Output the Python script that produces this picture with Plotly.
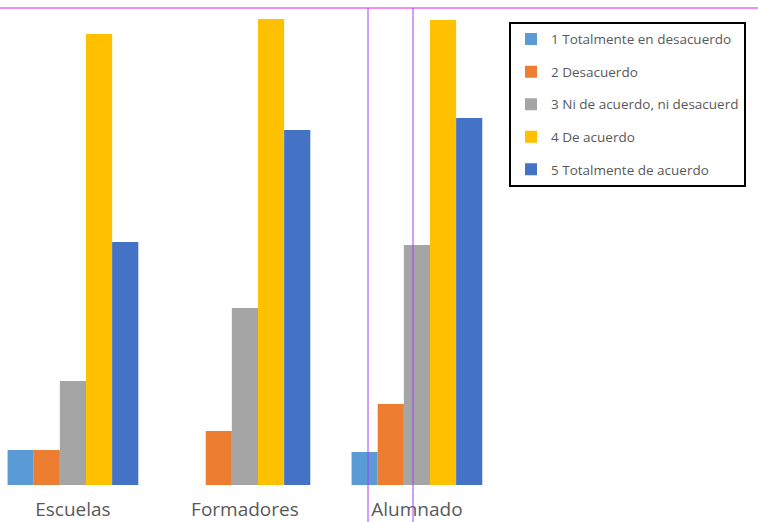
import plotly.graph_objects as go

categories = ["Escuelas", "Formadores", "Alumnado"]
series_names = [
    "1 Totalmente en desacuerdo",
    "2 Desacuerdo",
    "3 Ni de acuerdo, ni desacuerd",
    "4 De acuerdo",
    "5 Totalmente de acuerdo",
]
s1 = [35, 0, 33]
s2 = [35, 54, 81]
s3 = [104, 177, 240]
s4 = [451, 466, 465]
s5 = [243, 355, 367]
colors = ["#5b9bd5", "#ed7d31", "#a5a5a5", "#ffc000", "#4472c4"]

fig = go.Figure()
for i, (name, vals) in enumerate(zip(series_names, [s1, s2, s3, s4, s5])):
    fig.add_trace(go.Bar(
        x=categories, y=vals, name=name,
        marker=dict(color=colors[i], line=dict(width=0)),
        legendgroup=f"g{i}",
    ))

fig.update_layout(
    width=758, height=522,
    barmode="group", bargap=0.24, bargroupgap=0,
    plot_bgcolor="white", paper_bgcolor="white",
    margin=dict(l=0, r=258, t=0, b=37),
    font=dict(family="Open Sans, Liberation Sans, sans-serif", color="#595959"),
    xaxis=dict(range=[-0.424, 2.483], showgrid=False, showline=False, ticks="",
               automargin=False,
               tickfont=dict(size=19, color="#595959"), ticklabelstandoff=11),
    yaxis=dict(range=[0, 485], visible=False, automargin=False),
    showlegend=True,
    legend=dict(x=1.018, y=0.955, xanchor="left", yanchor="top",
                bordercolor="#000000", borderwidth=2, bgcolor="white",
                font=dict(size=13.5, color="#595959"),
                traceorder="grouped", tracegroupgap=12),
    shapes=[
        dict(type="line", xref="paper", yref="paper", x0=-0.01, x1=1.6,
             y0=1 - 8/485, y1=1 - 8/485, line=dict(color="#f58cf5", width=2)),
        dict(type="line", xref="paper", yref="paper", x0=368/500, x1=368/500,
             y0=1 - 8/485, y1=-0.1, line=dict(color="#a040ff", width=1)),
        dict(type="line", xref="paper", yref="paper", x0=413/500, x1=413/500,
             y0=1 - 8/485, y1=-0.1, line=dict(color="#a040ff", width=1)),
    ],
)

fig.write_html("out.html")
